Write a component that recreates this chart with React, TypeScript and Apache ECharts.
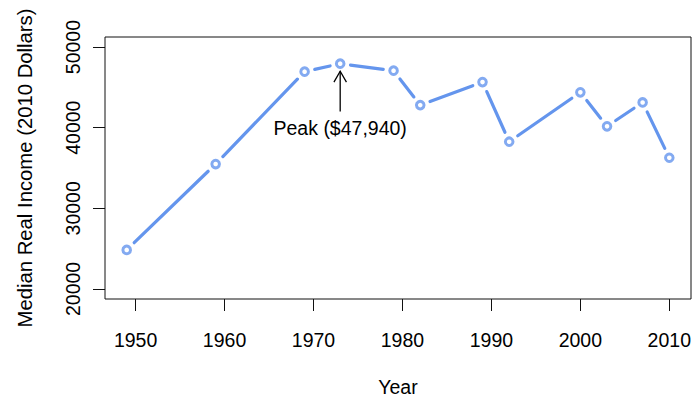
import React, { useEffect, useRef } from "react";
import * as echarts from "echarts";

// ---- data ----
const years = [1949, 1959, 1969, 1973, 1979, 1982, 1989, 1992, 2000, 2003, 2007, 2010];
const income = [24840, 35490, 46950, 47940, 47070, 42800, 45660, 38260, 44390, 40170, 43130, 36270];
const xTicks = [1950, 1960, 1970, 1980, 1990, 2000, 2010];
const yTicks = [20000, 30000, 40000, 50000];
const peakYear = 1973;
const peakLabel = "Peak ($47,940)";
const arrowFrom = 42000;
const arrowTo = 47000;
const peakTextY = 40000;

const BLUE = "#6495ED";
const FONT = "'Liberation Sans', Arial, Helvetica, sans-serif";
const FS = 19.5;

export default function App() {
  const ref = useRef<HTMLDivElement>(null);
  useEffect(() => {
    if (!ref.current) return;
    const chart = echarts.init(ref.current, undefined, { renderer: "svg" });
    const segments = years.slice(0, -1).map((y, i) => [y, income[i], years[i + 1], income[i + 1]]);
    const points = years.map((y, i) => [y, income[i]]);
    const gap = 10.4;
    chart.setOption({
      animation: false,
      backgroundColor: "#ffffff",
      textStyle: { fontFamily: FONT },
      grid: {
        left: 105,
        top: 37,
        width: 588,
        height: 267,
        show: true,
        borderColor: "#111",
        borderWidth: 1,
        backgroundColor: "transparent",
      },
      xAxis: {
        type: "value",
        min: 1946.56,
        max: 2012.44,
        name: "Year",
        nameLocation: "middle",
        nameGap: 78,
        nameTextStyle: { fontSize: FS, color: "#000", fontFamily: FONT },
        axisLine: { show: false },
        splitLine: { show: false },
        axisTick: {
          show: true,
          inside: false,
          length: 12,
          customValues: xTicks,
          lineStyle: { color: "#111", width: 1 },
        },
        axisLabel: {
          customValues: xTicks,
          margin: 31,
          fontSize: FS,
          color: "#000",
          fontFamily: FONT,
          formatter: (v: number) => String(v),
        },
      },
      yAxis: {
        type: "value",
        min: 18750,
        max: 51250,
        name: "Median Real Income (2010 Dollars)",
        nameLocation: "middle",
        nameGap: 70,
        nameRotate: 90,
        nameTextStyle: { fontSize: 20.3, color: "#000", fontFamily: FONT },
        axisLine: { show: false },
        splitLine: { show: false },
        axisTick: {
          show: true,
          inside: false,
          length: 12,
          customValues: yTicks,
          lineStyle: { color: "#111", width: 1 },
        },
        axisLabel: {
          customValues: yTicks,
          rotate: 90,
          margin: 22,
          fontSize: FS,
          color: "#000",
          fontFamily: FONT,
          formatter: (v: number) => String(v),
        },
      },
      series: [
        {
          type: "custom",
          silent: true,
          data: segments,
          encode: { x: [0, 2], y: [1, 3] },
          renderItem: (params: any, api: any) => {
            const a = api.coord([api.value(0), api.value(1)]);
            const b = api.coord([api.value(2), api.value(3)]);
            const dx = b[0] - a[0];
            const dy = b[1] - a[1];
            const len = Math.sqrt(dx * dx + dy * dy);
            if (len <= 2 * gap) return null;
            const ux = dx / len;
            const uy = dy / len;
            return {
              type: "line",
              shape: {
                x1: a[0] + ux * gap,
                y1: a[1] + uy * gap,
                x2: b[0] - ux * gap,
                y2: b[1] - uy * gap,
              },
              style: { stroke: BLUE, lineWidth: 3.2, lineCap: "round" },
            };
          },
          z: 2,
        },
        {
          type: "scatter",
          silent: true,
          data: points,
          symbol: "circle",
          symbolSize: 7.6,
          itemStyle: { color: "#ffffff", borderColor: BLUE, borderWidth: 3 },
          z: 3,
        },
        {
          type: "custom",
          silent: true,
          data: [[peakYear, arrowFrom, arrowTo, peakTextY]],
          encode: { x: 0, y: [1, 2, 3] },
          renderItem: (params: any, api: any) => {
            const base = api.coord([api.value(0), api.value(1)]);
            const tip = api.coord([api.value(0), api.value(2)]);
            const txt = api.coord([api.value(0), api.value(3)]);
            const hl = 12.5;
            const ang = (30 * Math.PI) / 180;
            const hx = Math.sin(ang) * hl;
            const hy = Math.cos(ang) * hl;
            return {
              type: "group",
              children: [
                {
                  type: "line",
                  shape: { x1: base[0], y1: base[1], x2: tip[0], y2: tip[1] },
                  style: { stroke: "#000", lineWidth: 1.3 },
                },
                {
                  type: "polyline",
                  shape: {
                    points: [
                      [tip[0] - hx, tip[1] + hy],
                      [tip[0], tip[1]],
                      [tip[0] + hx, tip[1] + hy],
                    ],
                  },
                  style: { stroke: "#000", lineWidth: 1.3, fill: "none" },
                },
                {
                  type: "text",
                  x: txt[0],
                  y: txt[1],
                  style: {
                    text: peakLabel,
                    fontSize: FS,
                    fontFamily: FONT,
                    fill: "#000",
                    align: "center",
                    verticalAlign: "middle",
                  },
                },
              ],
            };
          },
          z: 4,
        },
      ],
    });
    return () => chart.dispose();
  }, []);
  return (
    <div
      ref={ref}
      style={{ position: "fixed", left: 0, top: 0, width: 694, height: 402, background: "#fff" }}
    />
  );
}
